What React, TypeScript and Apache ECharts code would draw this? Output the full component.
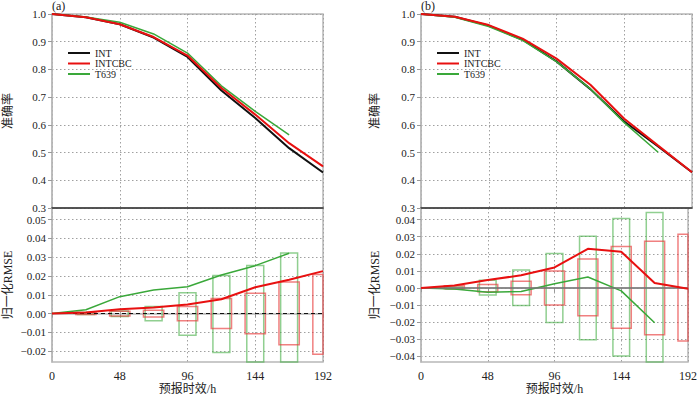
import React, { useEffect, useRef } from 'react';
import * as echarts from 'echarts';

const leads = [0, 24, 48, 72, 96, 120, 144, 168, 192];
const boxLeads = [24, 48, 72, 96, 120, 144, 168, 192];

// (a) accuracy
const accA_INT = [1.0, 0.988, 0.963, 0.915, 0.845, 0.724, 0.625, 0.516, 0.428];
const accA_INTCBC = [1.0, 0.988, 0.963, 0.917, 0.85, 0.733, 0.637, 0.534, 0.45];
const accA_T639 = [1.0, 0.989, 0.97, 0.928, 0.859, 0.741, 0.649, 0.564];
// (b) accuracy
const accB_INT = [1.0, 0.99, 0.958, 0.907, 0.829, 0.729, 0.612, 0.522, 0.429];
const accB_INTCBC = [1.0, 0.99, 0.96, 0.911, 0.839, 0.745, 0.622, 0.525, 0.429];
const accB_T639 = [1.0, 0.988, 0.955, 0.905, 0.828, 0.73, 0.608, 0.501];

// (a) normalized RMSE
const rmseA_INTCBC = [0, 0.0005, 0.0023, 0.0032, 0.0048, 0.0076, 0.014, 0.018, 0.0226];
const rmseA_T639 = [0, 0.002, 0.009, 0.0125, 0.0143, 0.0205, 0.0255, 0.0321];
// (b) normalized RMSE
const rmseB_INTCBC = [0, 0.0014, 0.0047, 0.0074, 0.012, 0.0229, 0.0212, 0.0029, -0.0004];
const rmseB_T639 = [0, -0.0006, -0.0025, -0.0021, 0.0025, 0.0064, -0.0017, -0.0203];

// boxes (low / high) at boxLeads
const boxA_T639_lo = [-0.0005, -0.0016, -0.0039, -0.0115, -0.0207, -0.03, -0.03];
const boxA_T639_hi = [0.0005, 0.0014, 0.0037, 0.0111, 0.0203, 0.0256, 0.0323];
const boxA_INTCBC_lo = [-0.0005, -0.0013, -0.0018, -0.0039, -0.008, -0.0108, -0.0166, -0.0217];
const boxA_INTCBC_hi = [0.0005, 0.0012, 0.0018, 0.0037, 0.008, 0.0108, 0.0168, 0.0208];
const boxB_T639_lo = [-0.0006, -0.0041, -0.0102, -0.0202, -0.0303, -0.0398, -0.05];
const boxB_T639_hi = [0.0006, 0.0046, 0.0105, 0.0202, 0.0303, 0.0406, 0.0441];
const boxB_INTCBC_lo = [-0.0005, -0.0022, -0.0039, -0.01, -0.0163, -0.0235, -0.0274, -0.031];
const boxB_INTCBC_hi = [0.0013, 0.002, 0.004, 0.01, 0.0169, 0.0243, 0.0274, 0.0315];

const accTicks = [0.3, 0.4, 0.5, 0.6, 0.7, 0.8, 0.9, 1.0];
const rmseTicksA = [-0.02, -0.01, 0, 0.01, 0.02, 0.03, 0.04, 0.05];
const rmseTicksB = [-0.04, -0.03, -0.02, -0.01, 0, 0.01, 0.02, 0.03, 0.04];

const SERIF = "'Liberation Serif', 'Noto Sans CJK SC', serif";
const C_BLACK = '#111111';
const C_RED = '#e81010';
const C_GREEN = '#3aa83a';
const C_BOX_RED = 'rgba(232,60,60,0.65)';
const C_BOX_GREEN = 'rgba(70,175,70,0.6)';

const pairs = (vals: number[]) => vals.map((v, i) => [leads[i], v]);

const fmtRmse = (v: number) => {
  const r = Math.round(v * 100) / 100;
  if (r < 0) return '\u2212' + Math.abs(r).toFixed(2);
  return Math.abs(r).toFixed(2);
};

export default function App() {
  const ref = useRef<HTMLDivElement>(null);
  useEffect(() => {
    if (!ref.current) return;
    const chart = echarts.init(ref.current, null, { renderer: 'svg' });

    const L = [52, 421];
    const W = 271;
    const grid = [
      { left: L[0], top: 14, width: W, height: 194 },
      { left: L[0], top: 208, width: W, height: 155 },
      { left: L[1], top: 14, width: W, height: 194 },
      { left: L[1], top: 208, width: W, height: 155 },
    ].map((g) => ({ ...g, show: true, borderColor: '#b8b8b8', borderWidth: 1.5, backgroundColor: 'transparent' }));

    const splitDotted = { show: true, lineStyle: { color: '#a0a0a0', type: [1.5, 2.5] as any, width: 1 } };
    const labelStyle = { fontFamily: SERIF, fontSize: 11, color: '#222' };

    const xAxisTop = (gi: number) => ({
      type: 'value', gridIndex: gi, min: 0, max: 192, interval: 48,
      axisLabel: { show: false }, axisTick: { show: false },
      axisLine: { show: true, lineStyle: { color: '#333', width: 1.5 } },
      splitLine: splitDotted,
    });
    const xAxisBottom = (gi: number) => ({
      type: 'value', gridIndex: gi, min: 0, max: 192, interval: 48,
      axisLabel: { ...labelStyle, fontSize: 12, margin: 8 },
      axisTick: { show: true, length: 4, lineStyle: { color: '#999' } },
      axisLine: { show: true, lineStyle: { color: '#b8b8b8', width: 1.5 } },
      splitLine: splitDotted,
      name: '预报时效/h', nameLocation: 'middle', nameGap: 21,
      nameTextStyle: { fontFamily: SERIF, fontSize: 12, color: '#222' },
    });
    const yAxisAcc = (gi: number, gap: number) => ({
      type: 'value', gridIndex: gi, min: 0.3, max: 1.0,
      axisTick: { show: true, length: 4, lineStyle: { color: '#999' }, customValues: accTicks },
      axisLabel: { ...labelStyle, margin: 6, customValues: accTicks, formatter: (v: number) => v.toFixed(1) },
      axisLine: { show: true, lineStyle: { color: '#b8b8b8', width: 1.5 } },
      splitLine: splitDotted,
      name: '准确率', nameLocation: 'middle', nameGap: gap, nameRotate: 90,
      nameTextStyle: { fontFamily: SERIF, fontSize: 12, color: '#222' },
    });
    const yAxisRmse = (gi: number, min: number, max: number, ticks: number[], gap: number) => ({
      type: 'value', gridIndex: gi, min, max,
      axisTick: { show: true, length: 4, lineStyle: { color: '#999' }, customValues: ticks },
      axisLabel: { ...labelStyle, margin: 6, customValues: ticks, formatter: fmtRmse },
      axisLine: { show: true, lineStyle: { color: '#b8b8b8', width: 1.5 } },
      splitLine: splitDotted,
      name: '归一化RMSE', nameLocation: 'middle', nameGap: gap, nameRotate: 90,
      nameTextStyle: { fontFamily: SERIF, fontSize: 12, color: '#222' },
    });

    const line = (name: string, idx: number, data: number[], color: string, width: number, z: number) => ({
      name, type: 'line', xAxisIndex: idx, yAxisIndex: idx,
      data: pairs(data), showSymbol: false, symbol: 'none',
      lineStyle: { color, width }, itemStyle: { color }, z,
    });

    const box = (idx: number, lows: number[], highs: number[], halfH: number, color: string) => ({
      type: 'custom', xAxisIndex: idx, yAxisIndex: idx, z: 1,
      data: lows.map((lo, i) => [boxLeads[i], lo, highs[i]]),
      encode: { x: 0, y: [1, 2] },
      renderItem: (params: any, api: any) => {
        const p0 = api.coord([api.value(0) - halfH, api.value(2)]);
        const p1 = api.coord([api.value(0) + halfH, api.value(1)]);
        const shape = echarts.graphic.clipRectByRect(
          { x: p0[0], y: p0[1], width: p1[0] - p0[0], height: p1[1] - p0[1] },
          { x: params.coordSys.x, y: params.coordSys.y, width: params.coordSys.width, height: params.coordSys.height }
        );
        if (!shape) return null;
        return { type: 'rect', shape, style: { fill: 'none', stroke: color, lineWidth: 1.5 } };
      },
    });

    const zeroLine = (style: any) => ({
      silent: true, symbol: 'none', label: { show: false },
      lineStyle: style, data: [{ yAxis: 0 }],
    });

    const legendBase = {
      orient: 'vertical', top: 43, itemGap: 0.5, itemWidth: 22, itemHeight: 2, icon: 'rect',
      data: ['INT', 'INTCBC', 'T639'],
      textStyle: { fontFamily: SERIF, fontSize: 10, color: '#222', lineHeight: 10 },
      selectedMode: false,
    };

    const option: any = {
      animation: false,
      grid,
      legend: [
        { ...legendBase, left: 63 },
        { ...legendBase, left: 432 },
      ],
      graphic: [
        { type: 'text', left: 52, top: 0, style: { text: '(a)', font: `12px ${SERIF}`, fill: '#222' } },
        { type: 'text', left: 421, top: 0, style: { text: '(b)', font: `12px ${SERIF}`, fill: '#222' } },
      ],
      xAxis: [xAxisTop(0), xAxisBottom(1), xAxisTop(2), xAxisBottom(3)],
      yAxis: [
        yAxisAcc(0, 38),
        yAxisRmse(1, -0.0258, 0.0562, rmseTicksA, 38),
        yAxisAcc(2, 40),
        yAxisRmse(3, -0.0433, 0.0468, rmseTicksB, 40),
      ],
      series: [
        line('INT', 0, accA_INT, C_BLACK, 2, 3),
        line('T639', 0, accA_T639, C_GREEN, 1.5, 4),
        line('INTCBC', 0, accA_INTCBC, C_RED, 2, 5),
        line('INT', 2, accB_INT, C_BLACK, 2, 3),
        line('T639', 2, accB_T639, C_GREEN, 1.5, 4),
        line('INTCBC', 2, accB_INTCBC, C_RED, 2, 5),

        box(1, boxA_T639_lo, boxA_T639_hi, 6, C_BOX_GREEN),
        box(1, boxA_INTCBC_lo, boxA_INTCBC_hi, 7.2, C_BOX_RED),
        { ...line('T639', 1, rmseA_T639, C_GREEN, 1.5, 4), markLine: zeroLine({ color: '#111', type: [4, 3], width: 1.2 }) },
        line('INTCBC', 1, rmseA_INTCBC, C_RED, 2, 5),

        box(3, boxB_T639_lo, boxB_T639_hi, 6, C_BOX_GREEN),
        box(3, boxB_INTCBC_lo, boxB_INTCBC_hi, 7.2, C_BOX_RED),
        { ...line('T639', 3, rmseB_T639, C_GREEN, 1.5, 4), markLine: zeroLine({ color: '#777', type: 'solid', width: 1.5 }) },
        line('INTCBC', 3, rmseB_INTCBC, C_RED, 2, 5),
      ],
    };
    chart.setOption(option);
    return () => chart.dispose();
  }, []);

  return (
    <div
      ref={ref}
      style={{ position: 'fixed', left: 0, top: 0, width: 700, height: 396, background: '#fff' }}
    />
  );
}
